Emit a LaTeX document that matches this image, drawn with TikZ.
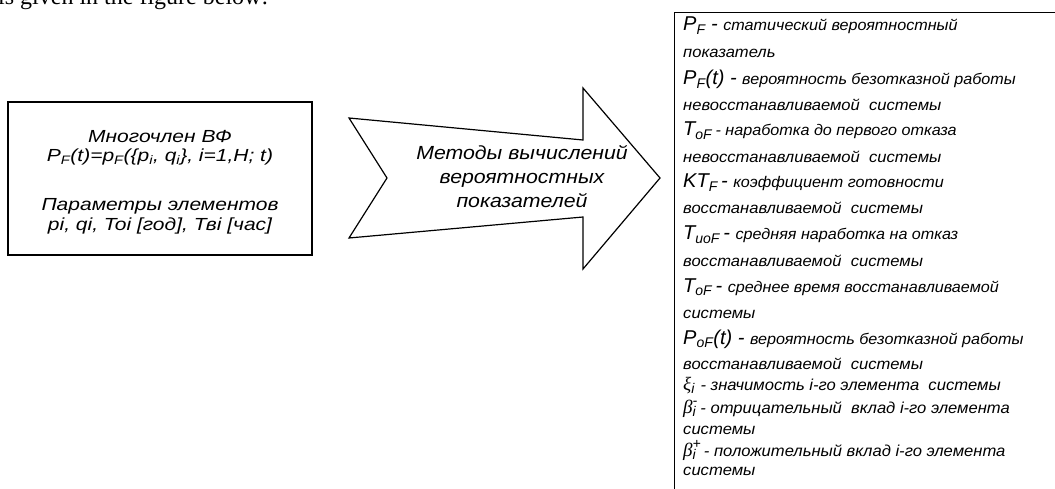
\documentclass[tikz,border=0pt]{standalone}
\usepackage{fontspec}
\setmainfont{Liberation Sans}
\newfontfamily\serifgr{Liberation Serif}
\newfontfamily\toptextfont{Liberation Serif}
\newfontfamily\lboxfam{Liberation Sans}[FakeStretch=1.2]
\newfontfamily\arrowfam{Liberation Sans}[FakeStretch=1.12]
\newfontfamily\descfam{Liberation Sans}[FakeStretch=1.05]
\newfontfamily\contfam{Liberation Sans}[FakeStretch=1.07]
\newcommand\fsz[2]{\fontsize{#1}{#2}\selectfont}
\newcommand\bigs{\normalfont\itshape\fsz{20}{24}}
\newcommand\grks{\fsz{19}{22}}
\newcommand\smls{\descfam\itshape\fsz{15.4}{17}}
\newcommand\cont{\contfam\itshape\fsz{15.5}{19}}
\newcommand\gdesc{\descfam\itshape\fsz{15.8}{18}}
\newcommand\grk[1]{{\serifgr\itshape\grks #1}}
\tikzset{
  boxline/.style={draw=black, line width=1.2pt},
  ln/.style={anchor=base west, inner sep=0pt, font=\itshape},
  lc/.style={anchor=base, inner sep=0pt, font=\lboxfam\itshape\fsz{17.5}{20}},
}
\begin{document}
\begin{tikzpicture}[x=1pt,y=-1pt]
\useasboundingbox (0,0) rectangle (1055,489);
\clip (0,0) rectangle (1055,489);
% top text (cut off)
\node[anchor=base west, inner sep=0pt, font=\toptextfont\fsz{24}{28}] (toptext) at (-2,4.5) {is given in the figure below:};
% left box
\node[boxline, minimum width=304pt, minimum height=153pt, inner sep=0pt] (inbox) at (160,178.5) {};
\node[lc] (l1) at (160,143) {Многочлен ВФ};
\node[lc] (l2) at (160,162) {P\textsubscript{F}(t)=p\textsubscript{F}(\{p\textsubscript{i}, q\textsubscript{i}\}, i=1,H; t)};
\node[lc] (l3) at (160,211) {Параметры элементов};
\node[lc] (l4) at (160,231) {pi, qi, Toi [год], Твi [час]};
% arrow
\draw[boxline, line join=miter] (349,118) -- (583,140) -- (583,88) -- (660,178) -- (583,269) -- (583,217) -- (349,238) -- (387,178) -- cycle;
\node[align=center, inner sep=0pt, font=\arrowfam\itshape\fsz{19}{24}] (meth) at (522,177) {Методы вычислений\\вероятностных\\показателей};
% right box
\node[boxline, anchor=north west, minimum width=420pt, minimum height=500pt, inner sep=0pt] (outbox) at (674,12) {};
\node[ln] (r0) at (683,31) {\bigs P\textsubscript{F} -\ \smls статический вероятностный};
\node[ln] (r1) at (683,58) {\cont показатель};
\node[ln] (r2) at (683,85) {\bigs P\textsubscript{F}(t) - \smls вероятность безотказной работы};
\node[ln] (r3) at (683,111) {\cont невосстанавливаемой\ \ системы};
\node[ln] (r4) at (683,136) {\bigs T\textsubscript{oF}\,\smls- наработка до первого отказа};
\node[ln] (r5) at (683,163) {\cont невосстанавливаемой\ \ системы};
\node[ln] (r6) at (683,188) {\bigs KT\textsubscript{F}\,-\ \smls коэффициент готовности};
\node[ln] (r7) at (683,214) {\cont восстанавливаемой\ \ системы};
\node[ln] (r8) at (683,240) {\bigs T\textsubscript{uoF}\,-\ \smls средняя наработка на отказ};
\node[ln] (r9) at (683,266) {\cont восстанавливаемой\ \ системы};
\node[ln] (r10) at (683,292) {\bigs T\textsubscript{oF}\,-\ \smls среднее время восстанавливаемой};
\node[ln] (r11) at (683,318) {\cont системы};
\node[ln] (r12) at (683,344) {\bigs P\textsubscript{oF}(t) - \smls вероятность безотказной работы};
\node[ln] (r13) at (683,369) {\cont восстанавливаемой\ \ системы};
\node[ln] (r14) at (683,390) {\bigs\grk{ξ}\textsubscript{i} \gdesc - значимость i-го элемента\ \ системы};
\node[ln] (r15) at (683,413) {\bigs\grk{β}\rlap{\textsubscript{i}}\textsuperscript{-}\gdesc\,- отрицательный\ \ вклад i-го элемента};
\node[ln] (r16) at (683,434) {\cont системы};
\node[ln] (r17) at (683,456) {\bigs\grk{β}\rlap{\textsubscript{i}}\textsuperscript{+}\gdesc\,- положительный вклад i-го элемента};
\node[ln] (r18) at (683,475) {\cont системы};
\end{tikzpicture}
\end{document}
